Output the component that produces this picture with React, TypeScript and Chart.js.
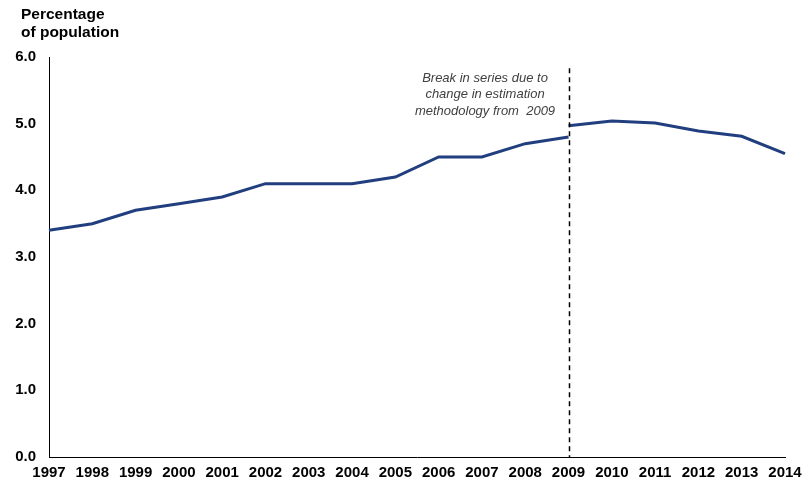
import React, { useEffect, useRef } from "react";
import { Chart, registerables } from "chart.js";

Chart.register(...registerables);

const years = ["1997","1998","1999","2000","2001","2002","2003","2004","2005","2006","2007","2008","2009","2010","2011","2012","2013","2014"];
const oldMethod = [3.4, 3.5, 3.7, 3.8, 3.9, 4.1, 4.1, 4.1, 4.2, 4.5, 4.5, 4.7, 4.8, null, null, null, null, null];
const newMethod = [null, null, null, null, null, null, null, null, null, null, null, null, 4.97, 5.04, 5.01, 4.89, 4.81, 4.55];
const yTicks = [0, 1, 2, 3, 4, 5, 6];
const breakYear = "2009";
const noteLines = ["Break in series due to", "change in estimation", "methodology from  2009"];
const titleLines = ["Percentage", "of population"];

const LINE = "#213F7F";
const FONT = "'Liberation Sans', Arial, sans-serif";

export default function App() {
  const ref = useRef<HTMLCanvasElement>(null);
  useEffect(() => {
    const overlay = {
      id: "overlay",
      afterDatasetsDraw(chart: any) {
        const { ctx, scales } = chart;
        const x = Math.round(scales.x.getPixelForValue(years.indexOf(breakYear))) + 0.5;
        ctx.save();
        ctx.strokeStyle = "#000";
        ctx.lineWidth = 1.5;
        ctx.setLineDash([5, 4]);
        ctx.beginPath();
        ctx.moveTo(x, scales.y.getPixelForValue(5.83));
        ctx.lineTo(x, scales.y.getPixelForValue(0));
        ctx.stroke();
        ctx.setLineDash([]);
        ctx.fillStyle = "#404040";
        ctx.font = `italic 13px ${FONT}`;
        ctx.textAlign = "center";
        ctx.textBaseline = "middle";
        noteLines.forEach((t, i) => ctx.fillText(t, 485, 78 + i * 16.5));
        ctx.fillStyle = "#000";
        ctx.font = `bold 15.5px ${FONT}`;
        ctx.textAlign = "left";
        titleLines.forEach((t, i) => ctx.fillText(t, 21, 15 + i * 18));
        ctx.restore();
      },
    };
    const chart = new Chart(ref.current!, {
      type: "line",
      data: {
        labels: years,
        datasets: [
          { data: oldMethod, borderColor: LINE, borderWidth: 3, pointRadius: 0, tension: 0, spanGaps: false },
          { data: newMethod, borderColor: LINE, borderWidth: 3, pointRadius: 0, tension: 0, spanGaps: false },
        ],
      },
      options: {
        animation: false,
        responsive: false,
        layout: { padding: { top: 57, right: 27, left: 0, bottom: 0 } },
        plugins: { legend: { display: false }, tooltip: { enabled: false } },
        scales: {
          x: {
            offset: false,
            grid: { display: false, drawTicks: false },
            border: { display: true, color: "#000", width: 1 },
            ticks: { color: "#000", font: { family: FONT, size: 15, weight: "bold" }, padding: 7, maxRotation: 0, autoSkip: false },
            afterFit: (s: any) => { s.height = 26; },
          },
          y: {
            min: 0,
            max: 6,
            grid: { display: false, drawTicks: false },
            border: { display: true, color: "#000", width: 1 },
            afterBuildTicks: (s: any) => { s.ticks = yTicks.map((v) => ({ value: v })); },
            ticks: {
              color: "#000",
              font: { family: FONT, size: 15, weight: "bold" },
              padding: 13,
              callback: (v: any) => Number(v).toFixed(1),
            },
            afterFit: (s: any) => { s.width = 49; },
          },
        },
      },
      plugins: [overlay],
    });
    return () => chart.destroy();
  }, []);
  return (
    <div style={{ position: "absolute", left: 0, top: 0, width: 812, height: 483, background: "#fff" }}>
      <canvas ref={ref} width={812} height={483} style={{ width: 812, height: 483 }} />
    </div>
  );
}
